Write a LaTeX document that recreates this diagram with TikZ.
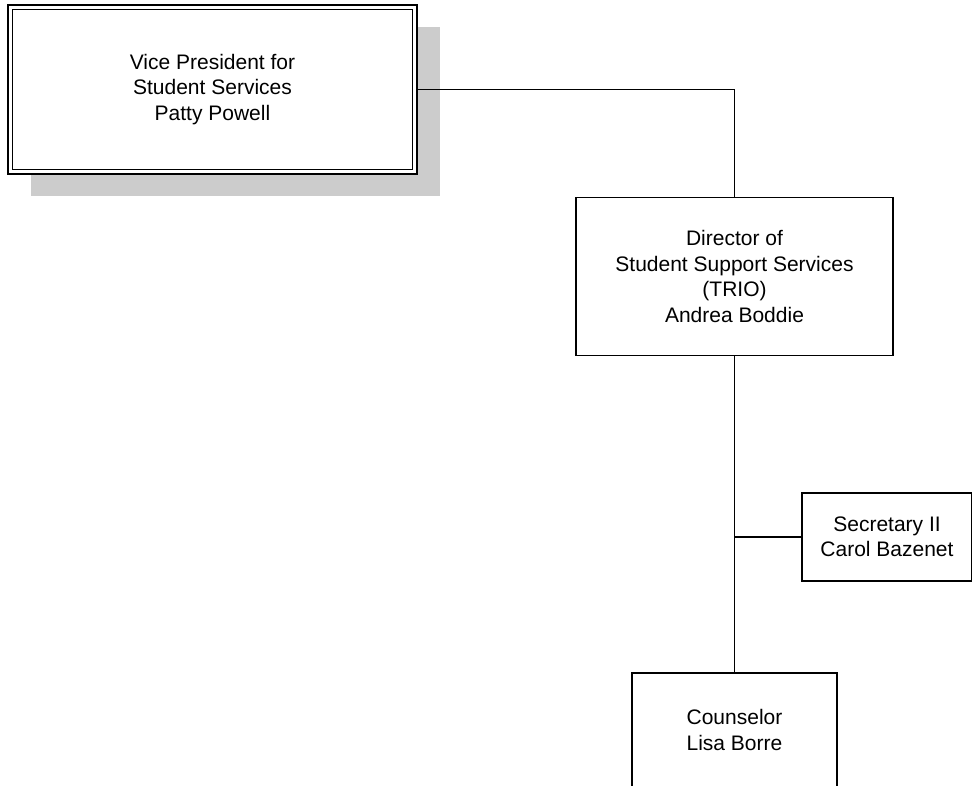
\documentclass[tikz,border=0pt]{standalone}
\usepackage{fontspec}
\setmainfont{Liberation Sans}
\usetikzlibrary{shadows,calc}
\definecolor{shadowgray}{HTML}{CCCCCC}
\begin{document}
\begin{tikzpicture}[x=1pt,y=-1pt,
  orgbox/.style={draw=black, fill=white, line width=1.2pt, rectangle, align=center,
    inner sep=0pt, outer sep=0pt,
    font=\fontsize{21}{25.5}\selectfont},
  conn/.style={draw=black, line width=1.2pt}]
\useasboundingbox (0,0) rectangle (972,785);
% VP box with shadow and double border
\node[orgbox, line width=2pt, minimum width=409pt, minimum height=169pt,
  general shadow={fill=shadowgray, shadow xshift=23pt, shadow yshift=-22pt}]
  (vp) at (212.5,89.5) {Vice President for\\Student Services\\Patty Powell};
\draw[line width=1.1pt] ($(vp.north west)+(4.5,4.5)$) rectangle ($(vp.south east)+(-4.5,-4.5)$);
% Director
\node[orgbox, minimum width=317pt, minimum height=158pt]
  (dir) at (734.5,276.5) {Director of\\Student Support Services\\(TRIO)\\Andrea Boddie};
% Secretary
\node[orgbox, minimum width=170pt, minimum height=88pt]
  (sec) at (887,537) {Secretary II\\Carol Bazenet};
% Counselor
\node[orgbox, minimum width=205pt, minimum height=114pt]
  (cou) at (734.5,730) {Counselor\\Lisa Borre};
% connectors
\coordinate (bend) at (dir.north |- vp.east);
\draw[conn] (vp.east) -- (bend) -- (dir.north);
\draw[conn] (dir.south) -- (cou.north);
\coordinate (jn) at (dir.south |- sec.west);
\draw[conn] (jn) -- (sec.west);
\end{tikzpicture}
\end{document}
